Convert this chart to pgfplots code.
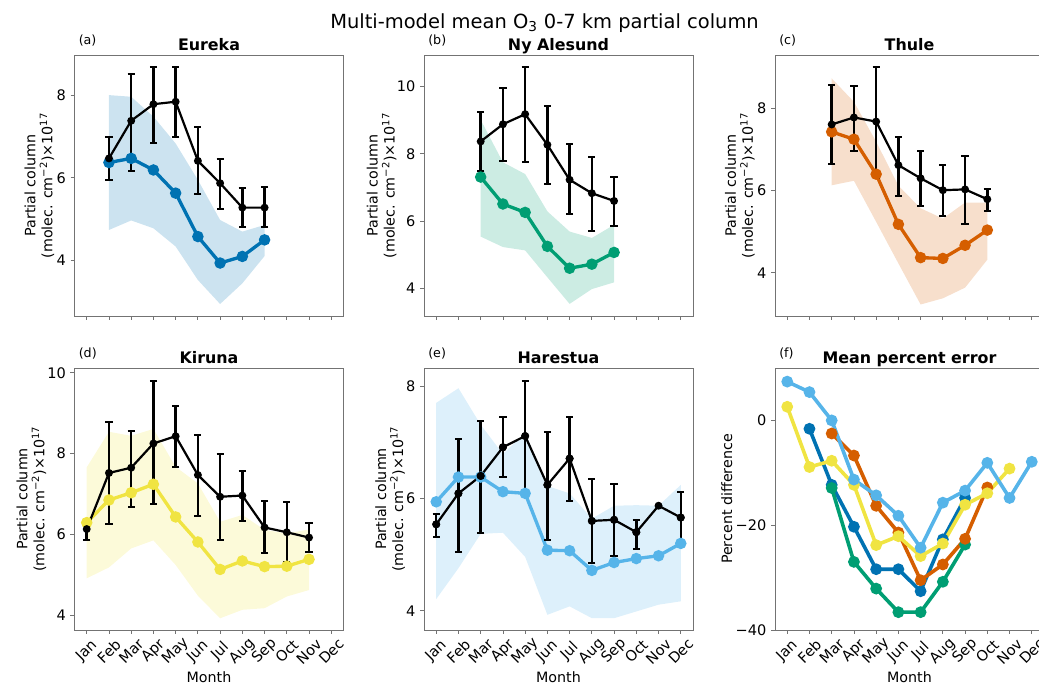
\documentclass[border=0pt]{standalone}
\usepackage{fontspec}
\setmainfont{DejaVu Sans}
\usepackage{pgfplots}
\usepackage{pgfplotstable}
\pgfplotsset{compat=1.18}

\definecolor{cEur}{HTML}{0072B2}
\definecolor{cNya}{HTML}{009E73}
\definecolor{cThu}{HTML}{D55E00}
\definecolor{cKir}{HTML}{F0E442}
\definecolor{cHar}{HTML}{56B4E9}
\definecolor{spine}{gray}{0.45}

% m = month index (0 = Jan); observed mean with its error range, model mean
% band tables: model spread, upper edge forward then lower edge back
\pgfplotstableread{
m obs olo ohi mod
1 6.47 5.95 6.98 6.37
2 7.38 6.16 8.52 6.47
3 7.78 6.85 8.67 6.19
4 7.84 6.99 8.67 5.63
5 6.41 5.61 7.24 4.58
6 5.87 5.24 6.45 3.94
7 5.28 4.80 5.75 4.10
8 5.28 4.80 5.77 4.50
}\eureka
\pgfplotstableread{
m b
1 8.00
2 7.96
3 7.48
4 6.83
5 5.95
6 4.98
7 4.70
8 4.86
8 4.11
7 3.45
6 2.95
5 3.53
4 4.34
3 4.78
2 4.97
1 4.74
}\eurekaband

\pgfplotstableread{
m obs olo ohi mod
2 8.37 7.50 9.24 7.31
3 8.88 7.79 9.95 6.51
4 9.18 7.75 10.57 6.26
5 8.27 7.10 9.41 5.25
6 7.23 6.21 8.29 4.60
7 6.83 5.71 7.91 4.72
8 6.60 5.86 7.31 5.07
}\nyalesund
\pgfplotstableread{
m b
2 9.01
3 7.75
4 7.40
5 6.29
6 5.69
7 5.50
8 5.89
8 4.18
7 3.98
6 3.54
5 4.33
4 5.13
3 5.23
2 5.54
}\nyalesundband

\pgfplotstableread{
m obs olo ohi mod
2 7.61 6.64 8.58 7.43
3 7.78 6.97 8.54 7.25
4 7.68 6.30 9.00 6.40
5 6.62 5.87 7.31 5.18
6 6.30 5.62 6.96 4.37
7 6.01 5.39 6.62 4.35
8 6.03 5.18 6.85 4.67
9 5.79 5.50 6.04 5.04
}\thule
\pgfplotstableread{
m b
2 8.73
3 8.16
4 7.19
5 6.12
6 5.57
7 5.32
8 5.71
9 5.71
9 4.32
8 3.64
7 3.38
6 3.23
5 4.23
4 5.24
3 6.24
2 6.13
}\thuleband

\pgfplotstableread{
m obs olo ohi mod
0 6.13 5.86 6.38 6.29
1 7.52 6.25 8.79 6.85
2 7.65 6.68 8.56 7.03
3 8.25 6.75 9.79 7.24
4 8.43 7.67 9.17 6.43
5 7.47 6.46 8.46 5.81
6 6.93 5.86 7.98 5.13
7 6.96 6.33 7.57 5.34
8 6.17 5.54 6.83 5.20
9 6.05 5.31 6.81 5.21
10 5.92 5.57 6.29 5.38
}\kiruna
\pgfplotstableread{
m b
0 7.66
1 8.54
2 8.44
3 8.61
4 7.67
5 7.26
6 6.31
7 6.48
8 6.11
9 6.02
10 6.12
10 4.62
9 4.46
8 4.17
7 4.13
6 3.92
5 4.48
4 5.24
3 5.85
2 5.65
1 5.18
0 4.91
}\kirunaband

% Nov (index 10) has no error bar
\pgfplotstableread{
m obs olo ohi mod
0 5.54 5.32 5.73 5.94
1 6.09 5.05 7.05 6.38
2 6.40 5.39 7.38 6.38
3 6.91 6.38 7.44 6.12
4 7.11 6.13 8.08 6.09
5 6.24 5.26 7.18 5.08
6 6.71 5.95 7.45 5.07
7 5.60 4.86 6.34 4.72
8 5.62 4.98 6.25 4.86
9 5.40 5.10 5.62 4.93
10 5.87 5.87 5.87 4.98
11 5.66 5.20 6.11 5.20
}\harestua
\pgfplotstableread{
m b
0 7.70
1 7.96
2 7.31
3 6.79
4 7.17
5 6.22
6 6.09
7 5.64
8 5.87
9 5.88
10 5.87
11 6.24
11 4.17
10 4.11
9 3.99
8 3.87
7 3.87
6 4.08
5 3.93
4 4.96
3 5.39
2 5.37
1 4.76
0 4.21
}\harestuaband

\pgfplotsset{
  panel/.style={
    scale only axis, width=201.75pt, anchor=south west,
    xmin=-0.55, xmax=11.55, xtick={0,...,11},
    axis line style={spine, line width=0.6pt},
    tick style={spine, line width=0.6pt},
    tick align=outside, major tick length=3pt, tick pos=left,
    /pgf/number format/assume math mode=true,
    tick label style={font=\fontsize{10.9}{12}\selectfont, black},
    label style={font=\fontsize{10.7}{12.75}\selectfont},
    every axis title shift=0pt,
    title style={font=\fontsize{11.9}{14}\selectfont\bfseries,
      at={(axis description cs:0.5,1.0165)}, anchor=base, yshift=0pt},
    ylabel style={anchor=south, inner sep=0pt, align=center},
  },
  toprow/.style={panel, height=195.75pt, xticklabels={,,,,,,,,,,,},
    ylabel={Partial column\\(molec. cm\textsuperscript{−2})×10\textsuperscript{17}}},
  botrow/.style={panel, height=196.5pt,
    xticklabels={Jan,Feb,Mar,Apr,May,Jun,Jul,Aug,Sep,Oct,Nov,Dec},
    xticklabel style={anchor=center, yshift=-13pt, rotate=45},
    xlabel={Month},
    xlabel style={at={(axis description cs:0.5,-0.159)}, anchor=north, inner sep=0pt}},
  band/.style={draw=none, fill=#1, fill opacity=0.2},
  model/.style={#1, line width=2.5pt, mark=*, mark size=3pt},
  obsline/.style={black, line width=1.65pt, mark=*, mark size=2.1pt},
  errbars/.style={
    error bars/y dir=both, error bars/y explicit,
    error bars/error bar style={line width=1.9pt},
    error bars/error mark options={rotate=90, line width=1.5pt, mark size=2.7pt}},
  pe/.style={#1, line width=2.7pt, mark=*, mark size=3pt},
}

\begin{document}
\begin{tikzpicture}
\useasboundingbox (0,0) rectangle (779.25pt,513pt);
\clip (0,0) rectangle (779.25pt,513pt);

\begin{axis}[toprow, name=pa, at={(55.875pt,276pt)}, title={Eureka},
  ymin=2.66, ymax=8.97, ytick={4,6,8},
  ylabel style={at={(axis description cs:-0.074,0.5)}}]
  \addplot[band=cEur] table[x=m, y=b]{\eurekaband};
  \addplot[model=cEur] table[x=m, y=mod]{\eureka};
  \addplot[obsline, errbars] table[x=m, y=obs,
    y error plus expr=\thisrow{ohi}-\thisrow{obs},
    y error minus expr=\thisrow{obs}-\thisrow{olo}]{\eureka};
\end{axis}

\begin{axis}[toprow, name=pb, at={(318pt,276pt)}, title={Ny Alesund},
  ymin=3.18, ymax=10.94, ytick={4,6,8,10},
  ylabel style={at={(axis description cs:-0.1015,0.5)}}]
  \addplot[band=cNya] table[x=m, y=b]{\nyalesundband};
  \addplot[model=cNya] table[x=m, y=mod]{\nyalesund};
  \addplot[obsline, errbars] table[x=m, y=obs,
    y error plus expr=\thisrow{ohi}-\thisrow{obs},
    y error minus expr=\thisrow{obs}-\thisrow{olo}]{\nyalesund};
\end{axis}

\begin{axis}[toprow, name=pc, at={(581.25pt,276pt)}, title={Thule},
  ymin=2.95, ymax=9.30, ytick={4,6,8},
  ylabel style={at={(axis description cs:-0.074,0.5)}}]
  \addplot[band=cThu] table[x=m, y=b]{\thuleband};
  \addplot[model=cThu] table[x=m, y=mod]{\thule};
  \addplot[obsline, errbars] table[x=m, y=obs,
    y error plus expr=\thisrow{ohi}-\thisrow{obs},
    y error minus expr=\thisrow{obs}-\thisrow{olo}]{\thule};
\end{axis}

\begin{axis}[botrow, name=pd, at={(55.875pt,40.5pt)}, title={Kiruna},
  ymin=3.63, ymax=10.12, ytick={4,6,8,10},
  ylabel={Partial column\\(molec. cm\textsuperscript{−2})×10\textsuperscript{17}},
  ylabel style={at={(axis description cs:-0.104,0.5)}}]
  \addplot[band=cKir] table[x=m, y=b]{\kirunaband};
  \addplot[model=cKir] table[x=m, y=mod]{\kiruna};
  \addplot[obsline, errbars] table[x=m, y=obs,
    y error plus expr=\thisrow{ohi}-\thisrow{obs},
    y error minus expr=\thisrow{obs}-\thisrow{olo}]{\kiruna};
\end{axis}

\begin{axis}[botrow, name=pe, at={(318pt,40.5pt)}, title={Harestua},
  ymin=3.66, ymax=8.32, ytick={4,6,8},
  ylabel={Partial column\\(molec. cm\textsuperscript{−2})×10\textsuperscript{17}},
  ylabel style={at={(axis description cs:-0.07,0.5)}}]
  \addplot[band=cHar] table[x=m, y=b]{\harestuaband};
  \addplot[model=cHar] table[x=m, y=mod]{\harestua};
  \addplot[obsline, only marks, skip coords between index={10}{11}, errbars]
    table[x=m, y=obs,
    y error plus expr=\thisrow{ohi}-\thisrow{obs},
    y error minus expr=\thisrow{obs}-\thisrow{olo}]{\harestua};
  \addplot[obsline] table[x=m, y=obs]{\harestua};
\end{axis}

\begin{axis}[botrow, name=pf, at={(581.25pt,40.5pt)}, title={Mean percent error},
  ymin=-40, ymax=10, ytick={-40,-20,0}, yticklabels={−40,−20,0},
  ylabel={Percent difference},
  ylabel style={at={(axis description cs:-0.158,0.5)}}]
  \addplot[pe=cEur] coordinates {(1,-1.6) (2,-12.3) (3,-20.3) (4,-28.4) (5,-28.4) (6,-32.6) (7,-22.7) (8,-14.8)};
  \addplot[pe=cNya] coordinates {(2,-12.9) (3,-27.0) (4,-32.1) (5,-36.6) (6,-36.6) (7,-30.8) (8,-23.7)};
  \addplot[pe=cThu] coordinates {(2,-2.5) (3,-6.7) (4,-16.3) (5,-21.4) (6,-30.5) (7,-27.5) (8,-22.6) (9,-12.8)};
  \addplot[pe=cKir] coordinates {(0,2.6) (1,-8.9) (2,-7.7) (3,-12.3) (4,-23.8) (5,-22.1) (6,-25.9) (7,-23.5) (8,-16.1) (9,-13.9) (10,-9.2)};
  \addplot[pe=cHar] coordinates {(0,7.4) (1,5.4) (2,0.0) (3,-11.3) (4,-14.3) (5,-18.2) (6,-24.3) (7,-15.7) (8,-13.4) (9,-8.1) (10,-14.8) (11,-7.9)};
\end{axis}

\foreach \p/\l in {pa/a,pb/b,pc/c,pd/d,pe/e,pf/f}
  \node[anchor=base west, inner sep=0pt, font=\fontsize{9.5}{11}\selectfont]
    at ([xshift=3pt, yshift=7.5pt]\p.north west) {(\l)};

\node[anchor=base, inner sep=0pt, font=\fontsize{14.6}{17}\selectfont]
  at (408.4pt,491.8pt) {Multi-model mean O\textsubscript{3} 0-7 km partial column};
\end{tikzpicture}
\end{document}
